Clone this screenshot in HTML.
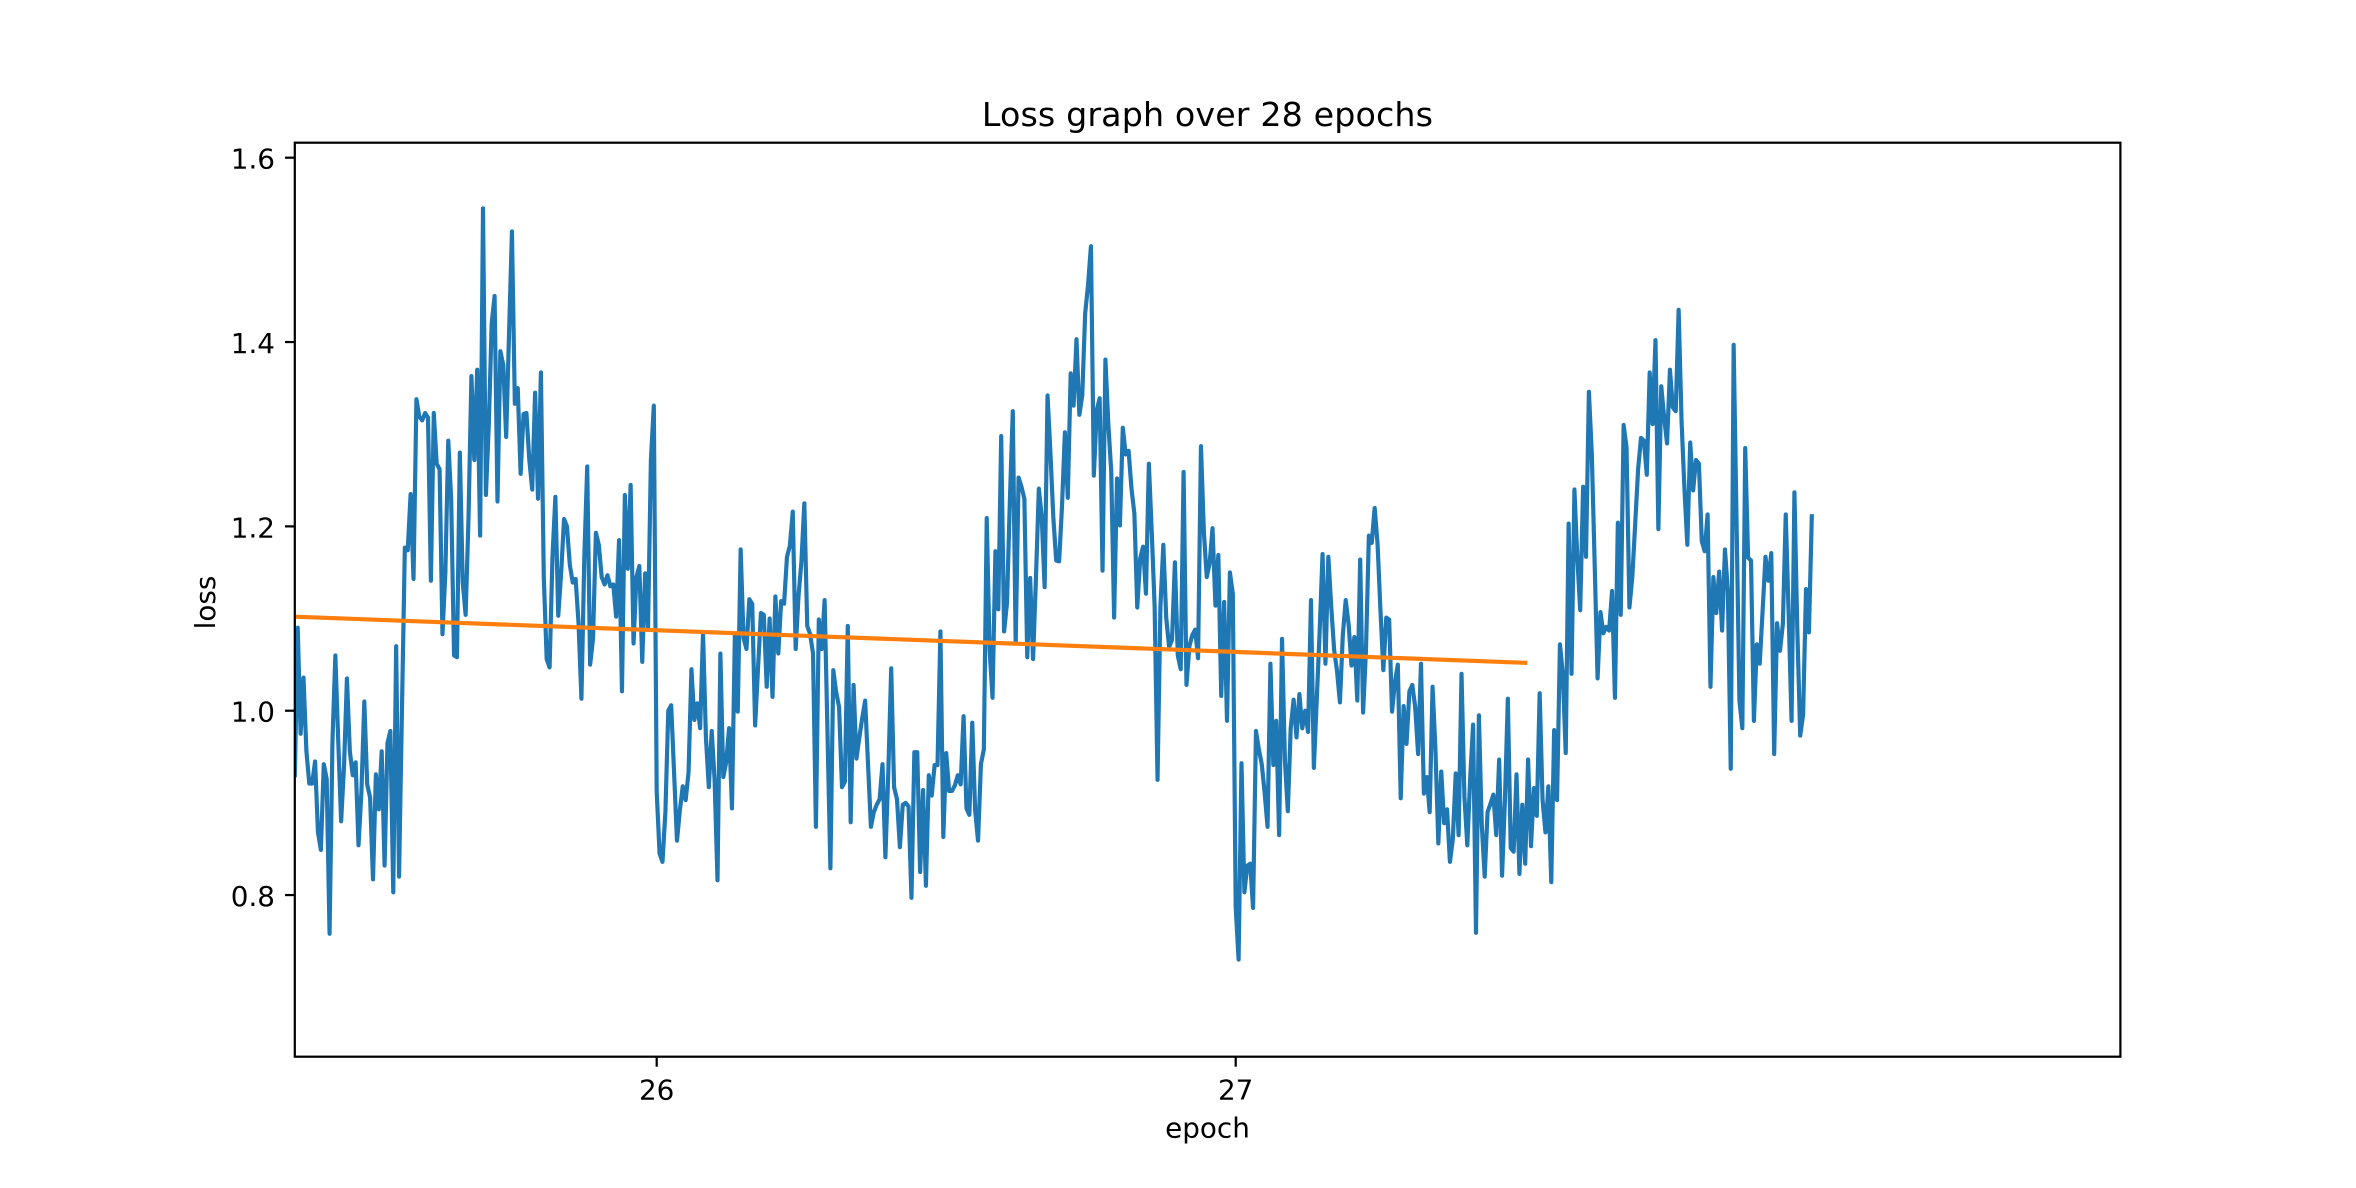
<!DOCTYPE html>
<html lang="en">
<head>
<meta charset="utf-8">
<title>Loss graph over 28 epochs</title>
<style>
html,body{margin:0;padding:0;background:#fff;}
svg{display:block;}
text{font-family:"DejaVu Sans","Liberation Sans",sans-serif;fill:#000;}
</style>
</head>
<body>
<svg id="chart" xmlns="http://www.w3.org/2000/svg" width="2356" height="1188" viewBox="0 0 2356 1188">
  <rect x="0" y="0" width="2356" height="1188" fill="#ffffff"/>
  <defs><clipPath id="plot-clip"><rect x="294.8" y="142.7" width="1825.6" height="914"/></clipPath></defs>
  <g id="marks" clip-path="url(#plot-clip)"></g>
  <g id="ticks"></g>
  <rect x="294.8" y="142.7" width="1825.6" height="914" fill="none" stroke="#000" stroke-width="2.22"/>
  <text x="1207.5" y="126" font-size="33.3" letter-spacing="0.12" text-anchor="middle">Loss graph over 28 epochs</text>
  <text x="1207.5" y="1137.5" font-size="27.8" text-anchor="middle">epoch</text>
  <text x="0" y="0" font-size="27.8" text-anchor="middle" transform="translate(215,602.5) rotate(-90)">loss</text>
</svg>
<script>
const firstEpoch = 25.375;
const stepsPerEpoch = 200;
const losses = [
.93,1.09,.975,1.036,.956,.921,.921,.945,.868,.849,
.942,.926,.758,.967,1.06,.967,.88,.94,1.035,.956,
.93,.944,.854,.912,1.01,.92,.906,.817,.931,.893,
.956,.832,.965,.978,.803,1.07,.82,1.0,1.177,1.174,
1.235,1.143,1.338,1.319,1.315,1.323,1.318,1.141,1.323,1.268,
1.262,1.083,1.15,1.293,1.23,1.06,1.058,1.28,1.139,1.104,
1.21,1.363,1.272,1.37,1.19,1.545,1.234,1.31,1.42,1.45,
1.227,1.39,1.375,1.297,1.41,1.52,1.333,1.35,1.257,1.322,
1.323,1.272,1.24,1.345,1.23,1.367,1.145,1.056,1.047,1.167,
1.232,1.103,1.15,1.208,1.2,1.158,1.139,1.143,1.095,1.013,
1.167,1.265,1.05,1.078,1.193,1.18,1.145,1.137,1.147,1.135,
1.137,1.102,1.185,1.021,1.234,1.154,1.245,1.073,1.145,1.157,
1.053,1.149,1.09,1.272,1.331,.912,.845,.836,.89,1.0,
1.006,.933,.859,.892,.918,.903,.933,1.045,.99,1.008,
.981,1.084,.971,.917,.978,.925,.816,1.062,.928,.944,
.981,.894,1.083,.999,1.175,1.079,1.067,1.121,1.116,.984,
1.046,1.106,1.104,1.026,1.1,1.015,1.124,1.062,1.119,1.116,
1.167,1.179,1.216,1.067,1.125,1.162,1.225,1.092,1.083,1.062,
.874,1.099,1.067,1.12,.975,.829,1.044,1.02,1.004,.917,
.923,1.092,.879,1.028,.948,.971,.992,1.011,.942,.874,
.89,.898,.904,.942,.841,.933,1.046,.917,.904,.852,
.898,.9,.896,.797,.955,.955,.825,.914,.81,.93,
.908,.941,.941,1.086,.863,.954,.913,.913,.919,.93,
.92,.994,.894,.887,.987,.892,.859,.942,.958,1.209,
1.066,1.014,1.173,1.11,1.298,1.086,1.117,1.229,1.325,1.073,
1.253,1.243,1.23,1.058,1.144,1.056,1.144,1.241,1.21,1.134,
1.342,1.28,1.21,1.163,1.162,1.222,1.302,1.231,1.366,1.331,
1.403,1.321,1.342,1.431,1.462,1.504,1.255,1.326,1.339,1.152,
1.381,1.311,1.26,1.101,1.252,1.201,1.307,1.278,1.282,1.241,
1.214,1.112,1.165,1.178,1.127,1.268,1.194,1.113,.925,1.113,
1.18,1.101,1.069,1.077,1.161,1.06,1.045,1.259,1.028,1.07,
1.082,1.088,1.057,1.287,1.194,1.145,1.16,1.198,1.114,1.169,
1.016,1.118,.989,1.15,1.127,.787,.73,.943,.803,.832,
.834,.786,.978,.958,.942,.911,.874,1.051,.941,.989,
.865,1.078,.946,.891,.981,1.012,.971,1.018,.981,1.0,
.977,1.12,.938,1.012,1.086,1.17,1.051,1.167,1.113,1.066,
1.043,1.009,1.082,1.12,1.094,1.049,1.08,1.011,1.164,.998,
1.066,1.19,1.182,1.22,1.181,1.109,1.044,1.101,1.099,.999,
1.031,1.05,.905,1.005,.964,1.021,1.028,1.004,.953,1.051,
.91,.928,.89,1.026,.958,.856,.934,.878,.893,.836,
.861,.932,.865,1.04,.907,.854,.927,.985,.759,.995,
.876,.82,.89,.899,.909,.865,.947,.821,.903,1.013,
.851,.847,.931,.823,.898,.834,.947,.853,.916,.886,
1.019,.903,.868,.918,.814,.979,.903,1.072,1.04,.954,
1.203,1.04,1.24,1.166,1.109,1.243,1.167,1.346,1.279,1.159,
1.035,1.107,1.084,1.091,1.087,1.13,1.014,1.204,1.104,1.31,
1.286,1.112,1.145,1.203,1.262,1.296,1.293,1.256,1.367,1.311,
1.402,1.197,1.352,1.318,1.29,1.37,1.329,1.325,1.435,1.315,
1.241,1.18,1.291,1.239,1.272,1.268,1.184,1.173,1.213,1.026,
1.145,1.106,1.151,1.087,1.175,1.13,.937,1.397,1.206,1.011,
.981,1.285,1.166,1.163,.989,1.072,1.051,1.108,1.167,1.141,
1.171,.953,1.095,1.065,1.094,1.213,1.105,.989,1.237,1.087,
.973,.996,1.132,1.085,1.211
];
const trendEpochs = [25.375, 27.5];
const trendLosses = [1.102, 1.052];
const xTicks = [26, 27];
const xTickLabels = ["26", "27"];
const yTicks = [0.8, 1.0, 1.2, 1.4, 1.6];
const yTickLabels = ["0.8", "1.0", "1.2", "1.4", "1.6"];

const NS = "http://www.w3.org/2000/svg";
function xScale(epoch) { return 656.7 + (epoch - 26) * 579; }
function yScale(loss) { return 157.7 + (1.6 - loss) * 921.7; }

const marks = document.getElementById("marks");
const ticks = document.getElementById("ticks");

const lossPoints = losses.map(function (v, i) {
  return xScale(firstEpoch + i / stepsPerEpoch).toFixed(2) + "," + yScale(v).toFixed(2);
}).join(" ");
const lossLine = document.createElementNS(NS, "polyline");
lossLine.setAttribute("points", lossPoints);
lossLine.setAttribute("fill", "none");
lossLine.setAttribute("stroke", "#1f77b4");
lossLine.setAttribute("stroke-width", "4.17");
lossLine.setAttribute("stroke-linejoin", "round");
lossLine.setAttribute("stroke-linecap", "square");


marks.appendChild(lossLine);

const trendPoints = trendEpochs.map(function (e, i) {
  return xScale(e).toFixed(2) + "," + yScale(trendLosses[i]).toFixed(2);
}).join(" ");
const trendLine = document.createElementNS(NS, "polyline");
trendLine.setAttribute("points", trendPoints);
trendLine.setAttribute("fill", "none");
trendLine.setAttribute("stroke", "#ff7f0e");
trendLine.setAttribute("stroke-width", "4.17");
trendLine.setAttribute("stroke-linecap", "square");


marks.appendChild(trendLine);

xTicks.forEach(function (t, i) {
  const x = xScale(t);
  const tick = document.createElementNS(NS, "line");
  tick.setAttribute("x1", x);
  tick.setAttribute("x2", x);
  tick.setAttribute("y1", 1056.7);
  tick.setAttribute("y2", 1066.7);
  tick.setAttribute("stroke", "#000");
  tick.setAttribute("stroke-width", "2.22");
  
  
  ticks.appendChild(tick);
  const label = document.createElementNS(NS, "text");
  label.setAttribute("x", x);
  label.setAttribute("y", 1099.3);
  label.setAttribute("font-size", "27.8");
  label.setAttribute("text-anchor", "middle");
  label.textContent = xTickLabels[i];
  
  
  ticks.appendChild(label);
});

yTicks.forEach(function (t, i) {
  const y = yScale(t);
  const tick = document.createElementNS(NS, "line");
  tick.setAttribute("x1", 285);
  tick.setAttribute("x2", 294.8);
  tick.setAttribute("y1", y);
  tick.setAttribute("y2", y);
  tick.setAttribute("stroke", "#000");
  tick.setAttribute("stroke-width", "2.22");
  
  
  ticks.appendChild(tick);
  const label = document.createElementNS(NS, "text");
  label.setAttribute("x", 275);
  label.setAttribute("y", y + 11);
  label.setAttribute("font-size", "27.8");
  label.setAttribute("text-anchor", "end");
  label.textContent = yTickLabels[i];
  
  
  ticks.appendChild(label);
});
</script>
</body>
</html>
